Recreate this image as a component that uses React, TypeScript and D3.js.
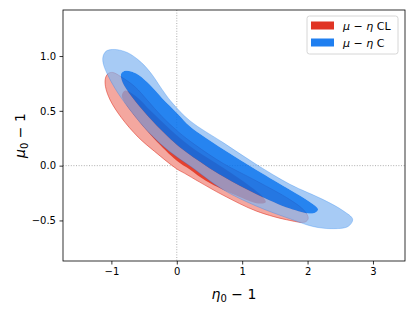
import React, { useEffect, useRef } from 'react';
import * as d3 from 'd3';

type Pt = [number, number];

// contour boundaries (eta0-1, mu0-1)
const blueOuter: Pt[] = [
  [-1.13, 0.99], [-1.08, 1.045], [-0.95, 1.06], [-0.75, 1.03], [-0.54, 0.94], [-0.39, 0.84],
  [-0.23, 0.7], [-0.08, 0.58], [0.2, 0.41], [0.71, 0.21], [1.22, 0.01], [1.73, -0.17],
  [2.24, -0.31], [2.54, -0.41], [2.69, -0.49], [2.62, -0.555], [2.36, -0.575], [2.08, -0.555],
  [1.73, -0.485], [1.22, -0.37], [0.71, -0.22], [0.22, -0.01], [0.0, 0.08], [-0.25, 0.2],
  [-0.5, 0.35], [-0.78, 0.56], [-0.95, 0.71], [-1.05, 0.82], [-1.12, 0.92],
];
const blueInner: Pt[] = [
  [-0.85, 0.84], [-0.78, 0.865], [-0.62, 0.84], [-0.45, 0.76], [-0.23, 0.62], [0.02, 0.47],
  [0.2, 0.36], [0.71, 0.15], [1.22, -0.04], [1.73, -0.22], [2.03, -0.33], [2.16, -0.4],
  [2.09, -0.435], [1.73, -0.39], [1.22, -0.26], [0.71, -0.1], [0.2, 0.1], [0.0, 0.19],
  [-0.18, 0.29], [-0.44, 0.45], [-0.69, 0.63], [-0.83, 0.76],
];
const redOuter: Pt[] = [
  [-1.09, 0.8], [-1.05, 0.84], [-0.98, 0.85], [-0.85, 0.81], [-0.64, 0.72], [-0.44, 0.59],
  [-0.23, 0.45], [0.02, 0.31], [0.28, 0.19], [0.71, 0.02], [1.22, -0.14], [1.73, -0.31],
  [1.95, -0.41], [2.01, -0.48], [1.96, -0.515], [1.73, -0.5], [1.22, -0.415], [0.71, -0.27],
  [0.35, -0.15], [0.12, -0.07], [0.0, -0.03], [-0.34, 0.13], [-0.59, 0.26], [-0.85, 0.44],
  [-1.02, 0.6], [-1.09, 0.72],
];
const redInner: Pt[] = [
  [-0.84, 0.64], [-0.79, 0.685], [-0.62, 0.63], [-0.4, 0.5], [-0.1, 0.33], [0.2, 0.18],
  [0.71, -0.02], [1.1, -0.18], [1.33, -0.295], [1.36, -0.335], [1.25, -0.345], [0.96, -0.285],
  [0.45, -0.14], [0.2, -0.035], [0.0, 0.045], [-0.34, 0.24], [-0.6, 0.42], [-0.8, 0.58],
];

const xTicks = [-1, 0, 1, 2, 3];
const yTicks = [-0.5, 0, 0.5, 1.0];
const legendItems = [
  { label: 'CL', color: '#e03424' },
  { label: 'C', color: '#1f7ff0' },
];

const W = 415, H = 312;
const M = { left: 63, right: 405, top: 10, bottom: 261 };

const App: React.FC = () => {
  const ref = useRef<SVGSVGElement>(null);

  useEffect(() => {
    if (!ref.current) return;
    const svg = d3.select(ref.current);
    svg.selectAll('*').remove();

    const x = d3.scaleLinear().domain([-1.74, 3.49]).range([M.left, M.right]);
    const y = d3.scaleLinear().domain([-0.87, 1.42]).range([M.bottom, M.top]);

    const line = d3.line<Pt>()
      .x(d => x(d[0]))
      .y(d => y(d[1]))
      .curve(d3.curveCatmullRomClosed.alpha(0.5));

    svg.append('defs').append('clipPath').attr('id', 'plotclip')
      .append('rect')
      .attr('x', M.left).attr('y', M.top)
      .attr('width', M.right - M.left).attr('height', M.bottom - M.top);

    const g = svg.append('g').attr('clip-path', 'url(#plotclip)');

    // zero lines
    g.append('line')
      .attr('x1', x(0)).attr('x2', x(0)).attr('y1', M.top).attr('y2', M.bottom)
      .attr('stroke', '#999').attr('stroke-width', 0.8).attr('stroke-dasharray', '1,1.6');
    g.append('line')
      .attr('x1', M.left).attr('x2', M.right).attr('y1', y(0)).attr('y2', y(0))
      .attr('stroke', '#999').attr('stroke-width', 0.8).attr('stroke-dasharray', '1,1.6');

    // red (drawn first)
    g.append('path').attr('d', line(redOuter))
      .attr('fill', '#f4a79f').attr('stroke', '#e03424').attr('stroke-width', 0.8).attr('stroke-opacity', 0.7);
    g.append('path').attr('d', line(redInner)).attr('fill', '#e4412f');

    // blue on top, semi transparent
    g.append('path').attr('d', (line(blueOuter) ?? '') + (line(blueInner) ?? ''))
      .attr('fill-rule', 'evenodd')
      .attr('fill', 'rgb(129,181,241)').attr('fill-opacity', 0.7);
    g.append('path').attr('d', line(blueOuter))
      .attr('fill', 'none').attr('stroke', '#006fed').attr('stroke-width', 0.7).attr('stroke-opacity', 0.35);
    g.append('path').attr('d', line(blueInner))
      .attr('fill', '#006fed').attr('fill-opacity', 0.85);

    // axes
    const font = 'DejaVu Sans, sans-serif';
    const xAxis = svg.append('g')
      .attr('transform', `translate(0,${M.bottom})`)
      .call(d3.axisBottom(x).tickValues(xTicks).tickFormat(d3.format('d')).tickSizeOuter(0).tickSize(3.5).tickPadding(3.5));
    const yAxis = svg.append('g')
      .attr('transform', `translate(${M.left},0)`)
      .call(d3.axisLeft(y).tickValues(yTicks).tickFormat(d3.format('.1f')).tickSizeOuter(0).tickSize(3.5).tickPadding(3.5));
    [xAxis, yAxis].forEach(a => {
      a.select('.domain').remove();
      a.selectAll('line').attr('stroke', '#000').attr('stroke-width', 0.8);
      a.selectAll('text').attr('font-family', font).attr('font-size', 10).attr('fill', '#000');
    });

    svg.append('rect')
      .attr('x', M.left).attr('y', M.top)
      .attr('width', M.right - M.left).attr('height', M.bottom - M.top)
      .attr('fill', 'none').attr('stroke', '#000').attr('stroke-width', 0.8);

    // axis labels
    const xl = svg.append('text')
      .attr('x', (M.left + M.right) / 2).attr('y', 299)
      .attr('text-anchor', 'middle').attr('font-family', font).attr('font-size', 14);
    xl.append('tspan').attr('font-style', 'italic').text('η');
    xl.append('tspan').attr('font-size', 10).attr('dy', 3).text('0');
    xl.append('tspan').attr('dy', -3).text(' − 1');

    const yl = svg.append('text')
      .attr('transform', `translate(25,${(M.top + M.bottom) / 2}) rotate(-90)`)
      .attr('text-anchor', 'middle').attr('font-family', font).attr('font-size', 14);
    yl.append('tspan').attr('font-style', 'italic').text('μ');
    yl.append('tspan').attr('font-size', 10).attr('dy', 3).text('0');
    yl.append('tspan').attr('dy', -3).text(' − 1');

    // legend
    const lg = svg.append('g');
    lg.append('rect')
      .attr('x', 307).attr('y', 16).attr('width', 91).attr('height', 38).attr('rx', 2.5)
      .attr('fill', '#fff').attr('fill-opacity', 0.8).attr('stroke', '#ccc').attr('stroke-width', 0.8);
    legendItems.forEach((d, i) => {
      const yy = 21.5 + i * 17;
      lg.append('rect').attr('x', 311).attr('y', yy).attr('width', 23).attr('height', 8).attr('fill', d.color);
      const t = lg.append('text').attr('x', 343).attr('y', yy + 8)
        .attr('font-family', font).attr('font-size', 11);
      t.append('tspan').attr('font-style', 'italic').text('μ');
      t.append('tspan').text(' − ');
      t.append('tspan').attr('font-style', 'italic').text('η');
      t.append('tspan').text(' ' + d.label);
    });
  }, []);

  return (
    <svg ref={ref} width={W} height={H} style={{ position: 'absolute', left: 0, top: 0, background: '#fff' }} />
  );
};

export default App;
